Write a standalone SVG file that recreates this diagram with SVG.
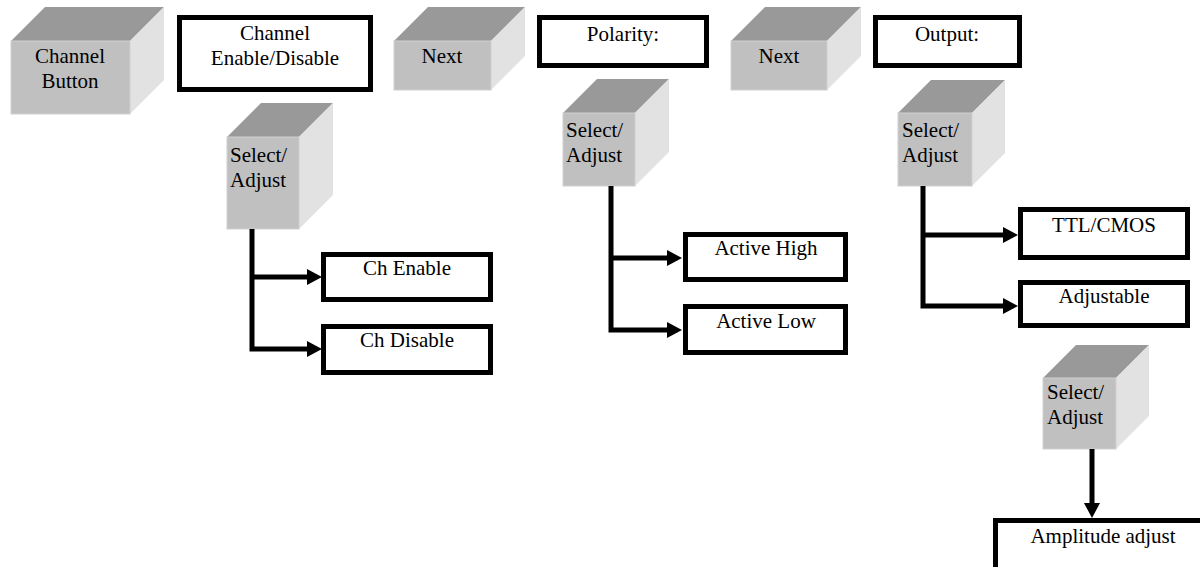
<svg xmlns="http://www.w3.org/2000/svg" width="1200" height="567" viewBox="0 0 1200 567">
<style>
.front{fill:#c0c0c0;stroke:#d0d0d0;stroke-width:1}
.top{fill:#999999}
.side{fill:#e2e2e2}
.box{fill:#ffffff;stroke:#000000;stroke-width:5}
.t{font-family:'Liberation Serif','Times New Roman','DejaVu Serif',serif;font-size:21px;fill:#000000}
.c{text-anchor:middle}
.conn{fill:none;stroke:#000000;stroke-width:5;stroke-linejoin:miter}
</style>
<defs>
<marker id="arr" viewBox="0 0 15 16" markerWidth="15" markerHeight="16" refX="3" refY="8" markerUnits="userSpaceOnUse" orient="auto">
<path d="M0,0 L15,8 L0,16 z" fill="#000000"/>
</marker>
</defs>
<rect width="1200" height="567" fill="#ffffff"/>

<g id="channel-button">
<polygon class="top" points="11,41 45,7 164,7 130,41"/>
<polygon class="side" points="130,41 164,7 164,80 130,114"/>
<rect class="front" x="11" y="41" width="119" height="73"/>
<text class="t c" x="70" y="63" font-family="Liberation Serif, serif">Channel</text>
<text class="t c" x="70" y="88">Button</text>
</g>

<g id="channel-enable-disable">
<rect class="box" x="179.5" y="17.5" width="191" height="72"/>
<text class="t c" x="275" y="40">Channel</text>
<text class="t c" x="275" y="65">Enable/Disable</text>
</g>

<g id="next-1">
<polygon class="top" points="394,41 428,7 525,7 491,41"/>
<polygon class="side" points="491,41 525,7 525,56 491,90"/>
<rect class="front" x="394" y="41" width="97" height="49"/>
<text class="t c" x="442" y="63">Next</text>
</g>

<g id="polarity">
<rect class="box" x="539.5" y="17.5" width="167" height="48"/>
<text class="t c" x="623" y="41">Polarity:</text>
</g>

<g id="next-2">
<polygon class="top" points="731,41 765,7 861,7 827,41"/>
<polygon class="side" points="827,41 861,7 861,56 827,90"/>
<rect class="front" x="731" y="41" width="96" height="49"/>
<text class="t c" x="779" y="63">Next</text>
</g>

<g id="output">
<rect class="box" x="875.5" y="17.5" width="144" height="48"/>
<text class="t c" x="947" y="41">Output:</text>
</g>

<g id="select-adjust-1">
<polygon class="top" points="227,137 261,103 333,103 299,137"/>
<polygon class="side" points="299,137 333,103 333,195 299,229"/>
<rect class="front" x="227" y="137" width="72" height="92"/>
<text class="t" x="230" y="162">Select/</text>
<text class="t" x="230" y="187">Adjust</text>
</g>

<g id="select-adjust-2">
<polygon class="top" points="563,113 597,79 669,79 635,113"/>
<polygon class="side" points="635,113 669,79 669,152 635,186"/>
<rect class="front" x="563" y="113" width="72" height="73"/>
<text class="t" x="566" y="137">Select/</text>
<text class="t" x="566" y="162">Adjust</text>
</g>

<g id="select-adjust-3">
<polygon class="top" points="898,113 931,80 1005,80 972,113"/>
<polygon class="side" points="972,113 1005,80 1005,153 972,186"/>
<rect class="front" x="898" y="113" width="74" height="73"/>
<text class="t" x="902" y="137">Select/</text>
<text class="t" x="902" y="162">Adjust</text>
</g>

<g id="select-adjust-4">
<polygon class="top" points="1043,378 1076,345 1149,345 1116,378"/>
<polygon class="side" points="1116,378 1149,345 1149,416 1116,449"/>
<rect class="front" x="1043" y="378" width="73" height="71"/>
<text class="t" x="1047" y="399">Select/</text>
<text class="t" x="1047" y="424">Adjust</text>
</g>

<g id="ch-enable">
<rect class="box" x="323.5" y="254.5" width="167" height="45"/>
<text class="t c" x="407" y="275">Ch Enable</text>
</g>

<g id="ch-disable">
<rect class="box" x="323.5" y="326.5" width="167" height="46"/>
<text class="t c" x="407" y="347">Ch Disable</text>
</g>

<g id="active-high">
<rect class="box" x="685.5" y="234.5" width="160" height="45"/>
<text class="t c" x="766" y="255">Active High</text>
</g>

<g id="active-low">
<rect class="box" x="685.5" y="306.5" width="160" height="46"/>
<text class="t c" x="766" y="328">Active Low</text>
</g>

<g id="ttl-cmos">
<rect class="box" x="1020.5" y="209.5" width="167" height="48"/>
<text class="t c" x="1104" y="232">TTL/CMOS</text>
</g>

<g id="adjustable">
<rect class="box" x="1020.5" y="282.5" width="167" height="43"/>
<text class="t c" x="1104" y="303">Adjustable</text>
</g>

<g id="amplitude-adjust">
<rect class="box" x="995.5" y="520.5" width="300" height="100"/>
<text class="t c" x="1103" y="543">Amplitude adjust</text>
</g>

<g id="connectors">
<path class="conn" d="M252,229 V349 H310" marker-end="url(#arr)"/>
<path class="conn" d="M252,277 H310" marker-end="url(#arr)"/>
<path class="conn" d="M611,186 V330 H670" marker-end="url(#arr)"/>
<path class="conn" d="M611,258 H670" marker-end="url(#arr)"/>
<path class="conn" d="M923,186 V306 H1006" marker-end="url(#arr)"/>
<path class="conn" d="M923,235 H1006" marker-end="url(#arr)"/>
<path class="conn" d="M1092,449 V506" marker-end="url(#arr)"/>
</g>
</svg>
